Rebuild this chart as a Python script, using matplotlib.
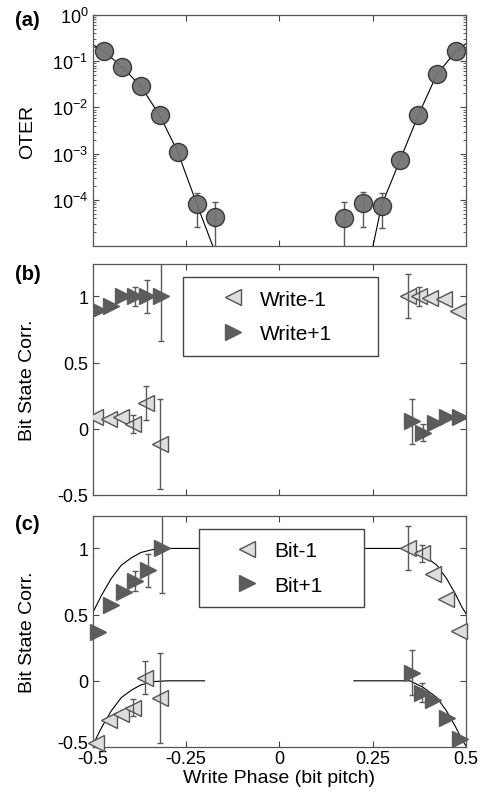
import matplotlib
matplotlib.use("Agg")
import matplotlib.pyplot as plt
from matplotlib.patches import Rectangle
from matplotlib.lines import Line2D
from matplotlib.transforms import ScaledTranslation

plt.rcParams["font.family"] = ["Liberation Sans", "DejaVu Sans"]
plt.rcParams["axes.unicode_minus"] = False
plt.rcParams["mathtext.fontset"] = "custom"
plt.rcParams["mathtext.rm"] = "Liberation Sans"

# ---- (a) OTER vs write phase ----
oter_x_left = [-0.470, -0.420, -0.371, -0.320, -0.272, -0.221, -0.173]
oter_y_left = [0.165, 0.074, 0.029, 6.7e-3, 1.1e-3, 8.2e-5, 4.3e-5]
oter_x_right = [0.174, 0.225, 0.274, 0.323, 0.372, 0.422, 0.472]
oter_y_right = [4.0e-5, 8.5e-5, 7.5e-5, 7.1e-4, 6.7e-3, 5.2e-2, 0.163]

# error bars (x, centre, low, high); low 1e-7 = runs off the axis
oter_err_x = [-0.221, -0.173, 0.174, 0.225, 0.274]
oter_err_y = [8.2e-5, 4.3e-5, 4.0e-5, 8.5e-5, 7.5e-5]
oter_err_lo = [2.6e-5, 1e-7, 1e-7, 2.6e-5, 2.4e-5]
oter_err_hi = [1.4e-4, 9.1e-5, 9.0e-5, 1.5e-4, 1.4e-4]

fit_a_left_x = [-0.500, -0.470, -0.420, -0.371, -0.320, -0.272, -0.221, -0.178]
fit_a_left_y = [0.23, 0.165, 0.074, 0.029, 6.7e-3, 1.1e-3, 8.2e-5, 1.0e-5]
fit_a_right_x = [0.251, 0.274, 0.323, 0.372, 0.422, 0.472, 0.500]
fit_a_right_y = [1.0e-5, 7.6e-5, 7.1e-4, 6.7e-3, 5.2e-2, 0.16, 0.24]

# ---- (b) write-phase correlation ----
wm1_x = [-0.494, -0.457, -0.423, -0.392, -0.356, -0.320,
         0.346, 0.375, 0.404, 0.440, 0.479]
wm1_y = [0.088, 0.076, 0.088, 0.038, 0.196, -0.113,
         1.0, 1.0, 0.99, 0.98, 0.887]
wm1_err = [0, 0, 0, 0.07, 0.13, 0.34,
           0.166, 0.07, 0, 0, 0]

wp1_x = [-0.485, -0.451, -0.418, -0.387, -0.353, -0.316,
         0.355, 0.386, 0.417, 0.450, 0.484]
wp1_y = [0.90, 0.93, 1.0, 1.0, 1.0, 1.0,
         0.056, -0.03, 0.045, 0.088, 0.088]
wp1_err = [0, 0, 0, 0.07, 0.125, 0.34,
           0.17, 0.065, 0, 0, 0]

# ---- (c) bit correlation ----
bm1_x = [-0.490, -0.457, -0.423, -0.392, -0.359, -0.320,
         0.346, 0.381, 0.411, 0.447, 0.482]
bm1_y = [-0.468, -0.296, -0.253, -0.202, 0.025, -0.127,
         1.005, 0.962, 0.81, 0.62, 0.38]
bm1_err = [0, 0, 0, 0.066, 0.126, 0.34,
           0.167, 0.066, 0, 0, 0]

bp1_x = [-0.485, -0.450, -0.416, -0.387, -0.351, -0.314,
         0.355, 0.381, 0.411, 0.448, 0.484]
bp1_y = [0.367, 0.57, 0.672, 0.755, 0.836, 1.0,
         0.06, -0.089, -0.142, -0.284, -0.437]
bp1_err = [0, 0, 0, 0.075, 0.125, 0.34,
           0.17, 0.07, 0, 0, 0]

fit_c_hi_left_x = [-0.503, -0.476, -0.450, -0.423, -0.396, -0.370, -0.333, -0.298, -0.200]
fit_c_hi_left_y = [0.494, 0.645, 0.772, 0.873, 0.929, 0.970, 0.995, 1.0, 1.0]
fit_c_lo_left_x = [-0.503, -0.476, -0.450, -0.423, -0.396, -0.370, -0.333, -0.298, -0.200]
fit_c_lo_left_y = [-0.506, -0.355, -0.228, -0.127, -0.071, -0.030, -0.005, 0.0, 0.0]
fit_c_hi_right_x = [0.200, 0.350, 0.386, 0.422, 0.448, 0.471, 0.489, 0.503]
fit_c_hi_right_y = [1.0, 1.0, 0.949, 0.873, 0.772, 0.658, 0.557, 0.494]
fit_c_lo_right_x = [0.200, 0.350, 0.386, 0.422, 0.448, 0.471, 0.489, 0.503]
fit_c_lo_right_y = [0.0, 0.0, -0.051, -0.127, -0.228, -0.342, -0.443, -0.506]

x_ticks = [-0.5, -0.25, 0, 0.25, 0.5]
x_ticklabels = ["-0.5", "-0.25", "0", "0.25", "0.5"]
corr_ticks = [-0.5, 0, 0.5, 1]
corr_ticklabels = ["-0.5", "0", "0.5", "1"]
oter_ticks = [1e-4, 1e-3, 1e-2, 1e-1, 1e0]

C_CIRC = "#737373"
C_DARK = "#5c5c5c"
C_LIGHT = "#dedede"
C_EDGE = "#555555"
C_ERR = "#5a5a5a"
FS_LAB = 14
FS_TICK = 13
FS_LEG = 15

fig = plt.figure(figsize=(4.86, 8.03), dpi=100)
L, W, H = 92.5 / 486, 373.5 / 486, 231 / 803
ax_a = fig.add_axes([L, 1 - 247 / 803, W, H])
ax_b = fig.add_axes([L, 1 - 496 / 803, W, H])
ax_c = fig.add_axes([L, 1 - 748 / 803, W, H])
LAB_X = (36 - 92.5) / 373.5


def _estilo(ax):
    ax.set_xlim(-0.5, 0.5)
    ax.set_xticks(x_ticks)
    ax.tick_params(direction="in", which="both", top=True, right=True,
                   labelsize=FS_TICK, colors="#444444", labelcolor="black",
                   pad=3)
    ax.tick_params(which="major", length=4)
    ax.tick_params(which="minor", length=2)
    for s in ax.spines.values():
        s.set_color("#555555")
        s.set_linewidth(0.9)


def _barras(ax, x, y, err):
    for xi, yi, ei in zip(x, y, err):
        if ei > 0:
            ax.errorbar([xi], [yi], yerr=[ei], fmt="none", ecolor=C_ERR,
                        elinewidth=1.0, capsize=2.5, capthick=1.0, zorder=4)


# (a)
_estilo(ax_a)
ax_a.set_yscale("log")
ax_a.set_ylim(1e-5, 1e0)
ax_a.set_yticks(oter_ticks)
ax_a.set_xticklabels([])
ax_a.plot(fit_a_left_x, fit_a_left_y, color="black", lw=0.8, zorder=2)
ax_a.plot(fit_a_right_x, fit_a_right_y, color="black", lw=0.8, zorder=2)
for xi, yi, lo, hi in zip(oter_err_x, oter_err_y, oter_err_lo, oter_err_hi):
    ax_a.errorbar([xi], [yi], yerr=[[yi - lo], [hi - yi]], fmt="none",
                  ecolor=C_ERR, elinewidth=1.0, capsize=2.5, zorder=1)
ax_a.plot(oter_x_left + oter_x_right, oter_y_left + oter_y_right, "o",
          ms=13, mfc=C_CIRC, mec="#333333", mew=1.0, zorder=3, alpha=0.95)
ax_a.set_ylabel("OTER", fontsize=FS_LAB)
ax_a.yaxis.set_label_coords(LAB_X, 0.5)

# (b)
_estilo(ax_b)
ax_b.set_ylim(-0.5, 1.245)
ax_b.set_yticks(corr_ticks)
ax_b.set_yticklabels(corr_ticklabels)
ax_b.set_xticklabels([])
ax_b.plot(wm1_x, wm1_y, "<", ms=11.5, mfc=C_LIGHT, mec=C_EDGE, mew=1.0, zorder=3)
ax_b.plot(wp1_x, wp1_y, ">", ms=11.5, mfc=C_DARK, mec=C_DARK, mew=1.0, zorder=3)
_barras(ax_b, wm1_x, wm1_y, wm1_err)
_barras(ax_b, wp1_x, wp1_y, wp1_err)
ax_b.set_ylabel("Bit State Corr.", fontsize=FS_LAB)
ax_b.yaxis.set_label_coords(LAB_X, 0.5)

# (c)
_estilo(ax_c)
ax_c.set_ylim(-0.5, 1.245)
ax_c.set_yticks(corr_ticks)
ax_c.set_yticklabels(corr_ticklabels)
ax_c.set_xticklabels(x_ticklabels)
ax_c.tick_params(axis="x", pad=2.5)
# nudge the bottom y label up so it clears the -0.5 on the x axis
rot_baixo = ax_c.get_yticklabels()[0]
rot_baixo.set_transform(rot_baixo.get_transform()
                        + ScaledTranslation(0, 4 / 72, fig.dpi_scale_trans))
for fx, fy in [(fit_c_hi_left_x, fit_c_hi_left_y), (fit_c_lo_left_x, fit_c_lo_left_y),
               (fit_c_hi_right_x, fit_c_hi_right_y), (fit_c_lo_right_x, fit_c_lo_right_y)]:
    ax_c.plot(fx, fy, color="black", lw=0.8, zorder=2)
ax_c.plot(bm1_x, bm1_y, "<", ms=11.5, mfc=C_LIGHT, mec=C_EDGE, mew=1.0, zorder=3,
          clip_on=False)
ax_c.plot(bp1_x, bp1_y, ">", ms=11.5, mfc=C_DARK, mec=C_DARK, mew=1.0, zorder=3,
          clip_on=False)
_barras(ax_c, bm1_x, bm1_y, bm1_err)
_barras(ax_c, bp1_x, bp1_y, bp1_err)
ax_c.set_ylabel("Bit State Corr.", fontsize=FS_LAB)
ax_c.yaxis.set_label_coords(LAB_X, 0.5)
ax_c.set_xlabel("Write Phase (bit pitch)", fontsize=FS_LAB, labelpad=1)


def _legenda(ax, box, centro, rotulos):
    x0, y0, x1, y1 = box
    ax.add_patch(Rectangle((x0, y0), x1 - x0, y1 - y0, transform=ax.transAxes,
                           facecolor="white", edgecolor="#444444", lw=1.0,
                           zorder=6))
    handles = [
        Line2D([], [], ls="none", marker="<", ms=11.5, mfc=C_LIGHT, mec=C_EDGE, mew=1.0),
        Line2D([], [], ls="none", marker=">", ms=11.5, mfc=C_DARK, mec=C_DARK, mew=1.0),
    ]
    leg = ax.legend(handles, rotulos, loc="center", bbox_to_anchor=centro,
                    frameon=False, fontsize=FS_LEG, handlelength=1.0,
                    handletextpad=0.8, labelspacing=0.75, borderaxespad=0)
    leg.set_zorder(7)


_legenda(ax_b, (0.242, 0.602, 0.764, 0.944), (0.494, 0.773), ["Write-1", "Write+1"])
_legenda(ax_c, (0.285, 0.606, 0.727, 0.944), (0.500, 0.775), ["Bit-1", "Bit+1"])

for txt, ypx in [("(a)", 20), ("(b)", 275), ("(c)", 524)]:
    fig.text(15 / 486, 1 - ypx / 803, txt, fontsize=14.5, fontweight="bold",
             ha="left", va="center")

fig.savefig("out.png", dpi=100)
